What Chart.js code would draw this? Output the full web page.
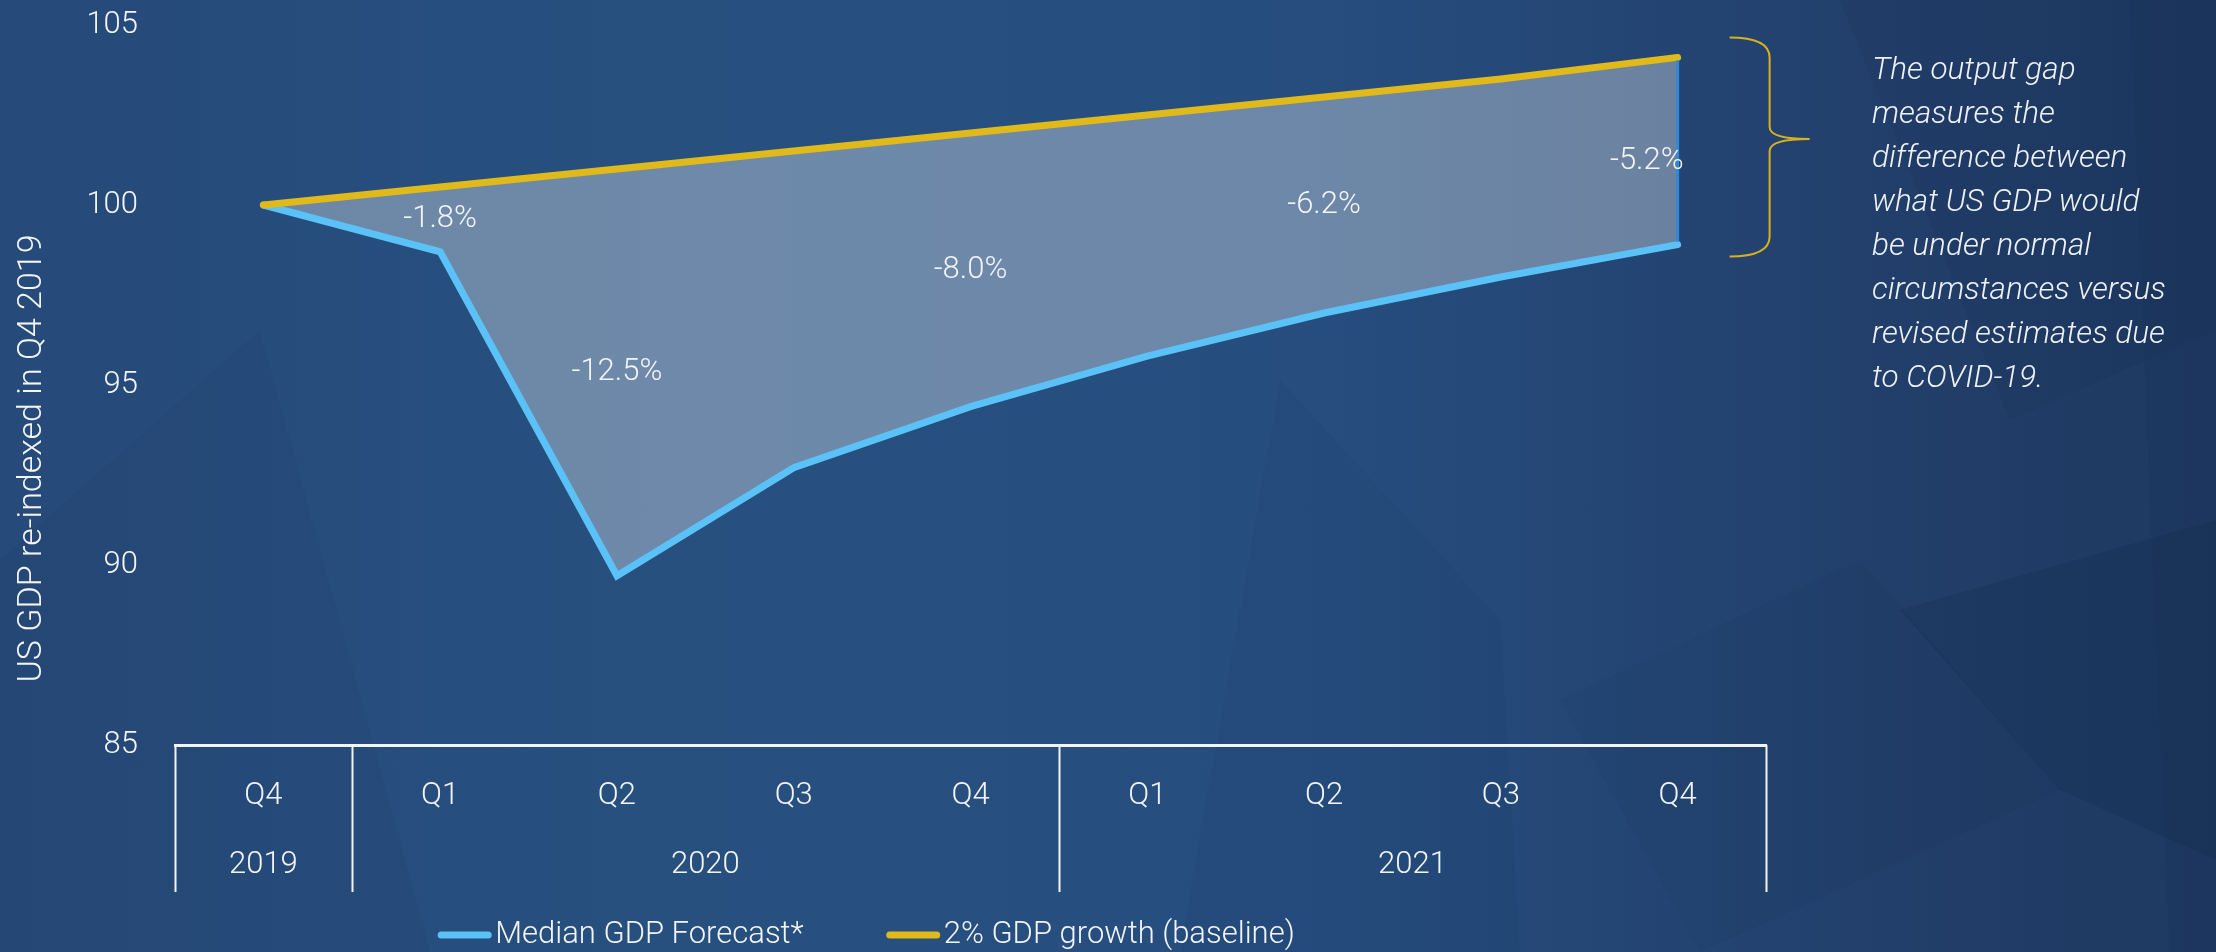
<!DOCTYPE html>
<html>
<head>
<meta charset="utf-8">
<title>US GDP output gap</title>
<script src="https://cdn.jsdelivr.net/npm/chart.js@4.4.0/dist/chart.umd.min.js"></script>
<style>
  html, body { margin: 0; padding: 0; }
  body {
    width: 2216px; height: 952px; overflow: hidden; position: relative;
    background: linear-gradient(90deg, #264a7a 0%, #27507f 30%, #264d7e 60%, #223f6b 85%, #1e3961 100%);
    font-family: Roboto, sans-serif;
  }
  #bg { position: absolute; left: 0; top: 0; }
  #wrap { position: absolute; left: 0; top: 0; width: 2216px; height: 952px; }
  #note {
    position: absolute; left: 1872px; top: 47px; white-space: nowrap;
    color: #eef2f7; font: italic 300 31.5px/44px Roboto, sans-serif;
  }
</style>
</head>
<body>
<svg id="bg" width="2216" height="952">
  <polygon points="0,560 260,330 430,952 0,952" fill="#0a1a33" opacity="0.05"/>
  <polygon points="1280,380 1500,620 1520,952 1180,952" fill="#0a1a33" opacity="0.04"/>
  <polygon points="1840,0 2216,0 2216,330 2010,420" fill="#0a1a33" opacity="0.07"/>
  <polygon points="1900,610 2216,520 2216,860 2060,790" fill="#0a1a33" opacity="0.14"/>
  <polygon points="2130,0 2216,0 2216,952 2170,952 2150,500" fill="#0a1a33" opacity="0.07"/>
  <polygon points="1560,700 1860,560 2060,790 1700,952" fill="#0a1a33" opacity="0.04"/>
</svg>
<div id="wrap"><canvas id="gapChart"></canvas></div>
<div id="note">The output gap<br>measures the<br>difference between<br>what US GDP would<br>be under normal<br>circumstances versus<br>revised estimates due<br>to COVID-19.</div>
<script>
const quarters = ['Q4', 'Q1', 'Q2', 'Q3', 'Q4', 'Q1', 'Q2', 'Q3', 'Q4'];
const years = ['2019', '2020', '2021'];
const yearSpans = [[0, 0], [1, 4], [5, 8]];
const medianForecast = [100, 98.7, 89.7, 92.7, 94.4, 95.8, 97.0, 98.0, 98.9];
const baseline = [100, 100.5, 101.0, 101.5, 102.0, 102.5, 103.0, 103.5, 104.1];
const gapIndex = [1, 2, 4, 6, 8];
const gapLabels = ['-1.8%', '-12.5%', '-8.0%', '-6.2%', '-5.2%'];
const yTicks = [85, 90, 95, 100, 105];

const WHITE = '#f2f4f8';
const BLUE = '#5bc2f7';
const GOLD = '#e0b91a';
const FONT = { family: 'Roboto, sans-serif', size: 31, weight: '300' };
const fontStr = (size) => `300 ${size || 31}px Roboto, sans-serif`;

// vertical separators of the quarter / year table under the plot
const axisTable = {
  id: 'axisTable',
  afterDraw(chart) {
    const { ctx, scales: { x, x2 }, chartArea } = chart;
    const bounds = [-0.5];
    yearSpans.forEach(([, b]) => bounds.push(b + 0.5));
    ctx.save();
    ctx.strokeStyle = WHITE;
    ctx.lineWidth = 2;
    bounds.forEach(b => {
      const px = Math.round(x.getPixelForValue(b)) + 0.5;
      ctx.beginPath();
      ctx.moveTo(px, chartArea.bottom);
      ctx.lineTo(px, x2.bottom);
      ctx.stroke();
    });
    ctx.restore();
  }
};

// gap percentages, right edge of the band and the brace
const gapNotes = {
  id: 'gapNotes',
  afterDatasetsDraw(chart) {
    const { ctx, scales: { x, y } } = chart;
    const last = quarters.length - 1;
    const lx = x.getPixelForValue(last);
    const yTop = y.getPixelForValue(baseline[last]);
    const yBot = y.getPixelForValue(medianForecast[last]);

    ctx.save();
    ctx.strokeStyle = '#2f8ad6';
    ctx.lineWidth = 3;
    ctx.beginPath();
    ctx.moveTo(lx, yTop + 3);
    ctx.lineTo(lx, yBot - 3);
    ctx.stroke();

    ctx.font = fontStr();
    ctx.fillStyle = WHITE;
    ctx.textBaseline = 'middle';
    gapIndex.forEach((i, k) => {
      const px = x.getPixelForValue(i);
      const py = (y.getPixelForValue(baseline[i]) + y.getPixelForValue(medianForecast[i])) / 2;
      if (i === last) {
        ctx.textAlign = 'right';
        ctx.fillText(gapLabels[k], px + 6, py + 10);
      } else {
        ctx.textAlign = 'center';
        ctx.fillText(gapLabels[k], px, py);
      }
    });

    // curly brace spanning the final gap
    const top = yTop - 20, bot = yBot + 12, mid = (top + bot) / 2 - 8;
    const x0 = lx + 52, x1 = lx + 92, x2 = lx + 132;
    ctx.strokeStyle = '#d8b21e';
    ctx.lineWidth = 2;
    ctx.beginPath();
    ctx.moveTo(x0, top);
    ctx.quadraticCurveTo(x1, top, x1, top + 20);
    ctx.lineTo(x1, mid - 12);
    ctx.quadraticCurveTo(x1, mid, x2, mid);
    ctx.quadraticCurveTo(x1, mid, x1, mid + 12);
    ctx.lineTo(x1, bot - 20);
    ctx.quadraticCurveTo(x1, bot, x0, bot);
    ctx.stroke();
    ctx.restore();
  }
};

// rotated y title and the legend row at the bottom
const frameText = {
  id: 'frameText',
  afterDraw(chart) {
    const { ctx, chartArea, scales: { x2 } } = chart;
    ctx.save();
    ctx.font = fontStr(34);
    ctx.fillStyle = WHITE;
    ctx.textAlign = 'center';
    ctx.textBaseline = 'middle';
    ctx.translate(32, (chartArea.top + x2.bottom) / 2);
    ctx.rotate(-Math.PI / 2);
    ctx.fillText('US GDP re-indexed in Q4 2019', 0, 0);
    ctx.restore();

    ctx.save();
    ctx.font = fontStr();
    ctx.textBaseline = 'middle';
    ctx.textAlign = 'left';
    const boxW = 55, textGap = 3, itemGap = 82, ly = 935, centerX = 866;
    const items = chart.data.datasets.map(ds => ({ text: ds.label, color: ds.borderColor }));
    const widths = items.map(it => boxW + textGap + ctx.measureText(it.text).width);
    let lx = centerX - (widths.reduce((a, b) => a + b, 0) + itemGap * (items.length - 1)) / 2;
    items.forEach((it, i) => {
      ctx.strokeStyle = it.color;
      ctx.lineWidth = 7;
      ctx.lineCap = 'round';
      ctx.beginPath();
      ctx.moveTo(lx + 4, ly);
      ctx.lineTo(lx + boxW - 4, ly);
      ctx.stroke();
      ctx.fillStyle = WHITE;
      ctx.fillText(it.text, lx + boxW + textGap, ly);
      lx += widths[i] + itemGap;
    });
    ctx.restore();
  }
};

new Chart(document.getElementById('gapChart'), {
  type: 'line',
  data: {
    labels: quarters,
    datasets: [{
      label: 'Median GDP Forecast*',
      data: medianForecast,
      borderColor: BLUE,
      backgroundColor: 'rgba(255, 255, 255, 0.33)',
      borderWidth: 7,
      borderCapStyle: 'round',
      borderJoinStyle: 'miter',
      pointRadius: 0,
      fill: '+1',
      order: 1
    }, {
      label: '2% GDP growth (baseline)',
      data: baseline,
      borderColor: GOLD,
      borderWidth: 7,
      borderCapStyle: 'round',
      pointRadius: 0,
      fill: false,
      order: 0
    }]
  },
  options: {
    responsive: true,
    maintainAspectRatio: false,
    animation: false,
    layout: { padding: { left: 0, right: 450, top: 25, bottom: 60 } },
    plugins: {
      legend: { display: false },
      tooltip: { enabled: false }
    },
    scales: {
      y: {
        min: 85,
        max: 105,
        afterBuildTicks: axis => { axis.ticks = yTicks.map(v => ({ value: v })); },
        afterFit: s => { s.width = 175; s.paddingTop = 0; s.paddingBottom = 0; },
        grid: { display: false, drawTicks: false },
        border: { display: false },
        ticks: { color: WHITE, font: FONT, padding: 37 }
      },
      x: {
        offset: true,
        grid: { display: false, drawTicks: false },
        border: { color: WHITE, width: 3 },
        ticks: { color: WHITE, font: FONT, padding: 33, maxRotation: 0, autoSkip: false },
        afterFit: s => { s.height = 75; s.paddingLeft = 0; s.paddingRight = 0; }
      },
      x2: {
        type: 'linear',
        position: 'bottom',
        weight: 1,
        min: -0.5,
        max: 8.5,
        afterBuildTicks: axis => {
          axis.ticks = yearSpans.map(([a, b]) => ({ value: (a + b) / 2 }));
        },
        afterFit: s => { s.height = 72; s.paddingLeft = 0; s.paddingRight = 0; },
        grid: { display: false, drawTicks: false },
        border: { display: false },
        ticks: {
          color: WHITE, font: FONT, padding: 27, maxRotation: 0, autoSkip: false,
          callback: (v, i) => years[i]
        }
      }
    }
  },
  plugins: [axisTable, gapNotes, frameText]
});
</script>
</body>
</html>
